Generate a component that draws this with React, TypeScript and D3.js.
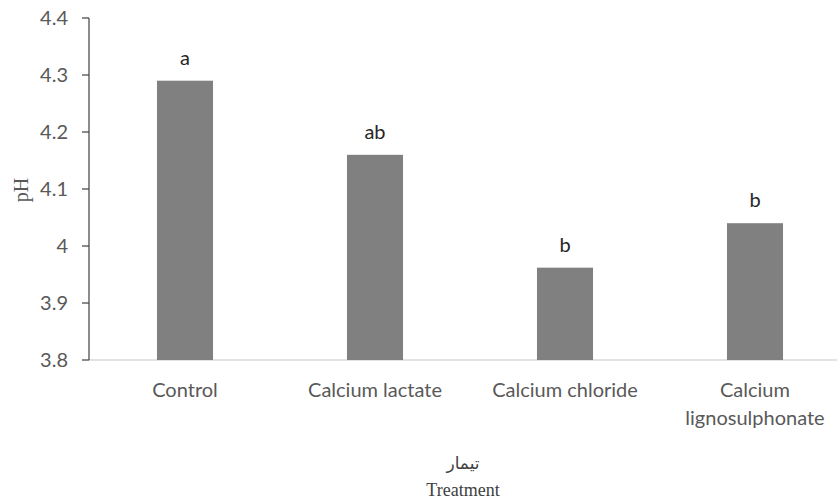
import React from "react";
import * as d3 from "d3";

const categories = ["Control", "Calcium lactate", "Calcium chloride", "Calcium lignosulphonate"];
const categoryLines = [["Control"], ["Calcium lactate"], ["Calcium chloride"], ["Calcium", "lignosulphonate"]];
const values = [4.29, 4.16, 3.962, 4.04];
const letters = ["a", "ab", "b", "b"];
const yTicks = [3.8, 3.9, 4.0, 4.1, 4.2, 4.3, 4.4];

const W = 837;
const H = 499;

export default function App() {
  const x = d3.scaleBand<string>().domain(categories).range([90, 850]).paddingInner(0.705).paddingOuter(0.3525);
  const y = d3.scaleLinear().domain([3.8, 4.4]).range([360, 18]);
  const fmt = (v: number) => (Math.abs(v - 4) < 1e-9 ? "4" : d3.format(".1f")(v));
  const sans = "Lato, 'Open Sans', sans-serif";
  const cx = (c: string) => (x(c) as number) + x.bandwidth() / 2;
  return (
    <svg width={W} height={H} style={{ position: "absolute", left: 0, top: 0, background: "#fff" }}>
      {/* x axis */}
      <line x1={89} x2={W} y1={y(3.8)} y2={y(3.8)} stroke="#d9d9d9" strokeWidth={1.5} />
      {/* bars */}
      {categories.map((c, i) => (
        <rect key={c} x={x(c)} y={y(values[i])} width={x.bandwidth()} height={y(3.8) - y(values[i])} fill="#808080" />
      ))}
      {/* letters */}
      {categories.map((c, i) => (
        <text key={c} x={cx(c)} y={y(values[i]) - 16} textAnchor="middle"
          fontFamily={sans} fontSize={20} fill="#262626">{letters[i]}</text>
      ))}
      {/* y axis */}
      <line x1={89} x2={89} y1={y(4.4)} y2={y(3.8)} stroke="#404040" strokeWidth={1.2} />
      {yTicks.map((t) => (
        <g key={t}>
          <line x1={82} x2={89} y1={y(t)} y2={y(t)} stroke="#404040" strokeWidth={1.2} />
          <text x={68} y={y(t)} dy="0.35em" textAnchor="end" fontFamily={sans} fontSize={20} fill="#595959">{fmt(t)}</text>
        </g>
      ))}
      {/* category labels */}
      {categories.map((c, i) => (
        <text key={c} x={cx(c)} y={397} textAnchor="middle" fontFamily={sans} fontSize={20} fill="#595959">
          {categoryLines[i].map((l, j) => (
            <tspan key={j} x={cx(c)} dy={j === 0 ? 0 : 28}>{l}</tspan>
          ))}
        </text>
      ))}
      {/* axis titles */}
      <text x={21} y={190} transform="rotate(-90 21 190)" dy="0.35em" textAnchor="middle"
        fontFamily="'Liberation Serif', serif" fontSize={20} fill="#595959">pH</text>
      <text x={463} y={469} textAnchor="middle" fontFamily="'DejaVu Sans', 'Liberation Serif', serif" fontSize={17} fill="#404040">تیمار</text>
      <text x={463} y={496} textAnchor="middle" fontFamily="'Liberation Serif', serif" fontSize={18} fill="#404040">Treatment</text>
    </svg>
  );
}
